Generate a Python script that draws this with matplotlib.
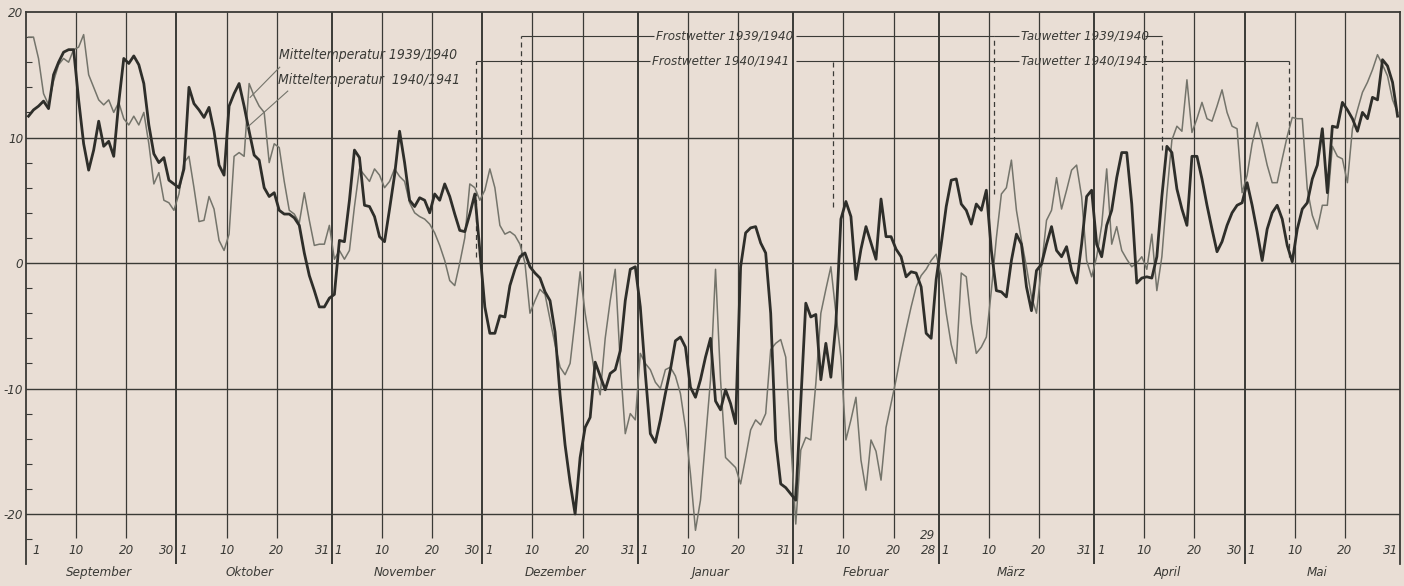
import numpy as np
import matplotlib
matplotlib.use("Agg")
import matplotlib.pyplot as plt

# daily mean temperature, 1 Sept - 31 May
# light thin line = 1939/1940, heavy line = 1940/1941
t40_sep = [18.0, 18.0, 16.3, 13.5, 12.6, 14.5, 15.8, 16.3, 16.0, 17.0, 17.2, 18.2, 15.0, 14.0, 13.0,
           12.6, 13.0, 12.0, 12.8, 11.5, 11.0, 11.7, 11.0, 12.0, 9.5, 6.3, 7.2, 5.0, 4.8, 4.2]
t40_oct = [5.5, 8.0, 8.5, 6.0, 3.3, 3.4, 5.3, 4.3, 1.8, 1.0, 2.3, 8.5, 8.8, 8.5, 14.3, 13.3,
           12.5, 12.0, 8.0, 9.5, 9.2, 6.5, 4.2, 3.9, 3.2, 5.6, 3.4, 1.4, 1.5, 1.5, 3.0]
t40_nov = [0.3, 1.0, 0.3, 1.0, 4.5, 7.5, 7.0, 6.5, 7.5, 7.0, 6.0, 6.5, 7.5, 6.9, 6.5, 4.8,
           4.0, 3.7, 3.5, 3.1, 2.4, 1.4, 0.2, -1.4, -1.8, 0.0, 2.0, 6.3, 6.0, 5.0]
t40_dec = [5.8, 7.5, 6.0, 3.0, 2.3, 2.5, 2.2, 1.5, 0.0, -4.0, -3.0, -2.1, -2.5, -4.5, -6.5, -8.3,
           -8.9, -8.0, -4.5, -0.7, -4.0, -6.5, -9.0, -10.5, -6.0, -3.0, -0.5, -8.0, -13.6, -12.0, -12.5]
t40_jan = [-7.2, -8.0, -8.5, -9.5, -10.0, -8.5, -8.3, -9.0, -10.4, -13.1, -16.8, -21.3, -18.9, -14.1,
           -9.3, -0.5, -9.3, -15.5, -15.9, -16.3, -17.6, -15.5, -13.3, -12.5, -12.9, -12.0, -6.9,
           -6.4, -6.1, -7.5, -14.1]
t40_feb = [-20.8, -14.9, -13.9, -14.1, -9.6, -4.0, -2.1, -0.3, -4.0, -7.5, -14.1, -12.5, -10.7,
           -15.7, -18.1, -14.1, -15.0, -17.3, -13.1, -11.2, -9.3, -7.2, -5.3, -3.5, -1.9, -1.0, -0.5,
           0.2, 0.7]
t40_mar = [-1.0, -4.0, -6.5, -8.0, -0.8, -1.1, -4.8, -7.2, -6.7, -5.9, -2.2, 2.0, 5.5, 6.0, 8.2,
           4.2, 1.8, -0.3, -2.7, -4.0, -0.3, 3.4, 4.2, 6.8, 4.3, 5.8, 7.4, 7.8, 5.3, 0.2, -1.1]
t40_apr = [0.5, 3.0, 7.5, 1.5, 2.9, 1.0, 0.3, -0.3, 0.0, 0.5, -0.5, 2.3, -2.2, 0.5, 5.5, 9.8,
           10.9, 10.5, 14.6, 10.4, 11.5, 12.8, 11.5, 11.3, 12.5, 13.8, 12.0, 10.9, 10.7, 5.6]
t40_may = [7.0, 9.5, 11.2, 9.6, 7.8, 6.4, 6.4, 8.3, 10.1, 11.6, 11.5, 11.5, 5.9, 3.8, 2.7, 4.6,
           4.6, 9.3, 8.5, 8.3, 6.4, 10.7, 12.2, 13.6, 14.4, 15.4, 16.6, 15.8, 14.9, 13.0, 12.0]

t41_sep = [11.7, 12.2, 12.5, 12.9, 12.3, 15.0, 16.0, 16.8, 17.0, 17.0, 13.0, 9.5, 7.4, 9.0, 11.3,
           9.3, 9.7, 8.5, 12.8, 16.3, 15.9, 16.5, 15.8, 14.3, 11.0, 8.7, 8.0, 8.4, 6.6, 6.3]
t41_oct = [6.0, 7.5, 14.0, 12.7, 12.2, 11.6, 12.4, 10.5, 7.8, 7.0, 12.5, 13.5, 14.3, 12.5, 10.5,
           8.6, 8.2, 6.0, 5.3, 5.6, 4.2, 3.9, 3.9, 3.6, 3.0, 0.8, -1.0, -2.2, -3.5, -3.5, -2.8]
t41_nov = [-2.5, 1.8, 1.7, 5.0, 9.0, 8.4, 4.6, 4.5, 3.7, 2.1, 1.7, 4.3, 7.0, 10.5, 8.0, 5.0,
           4.5, 5.2, 5.0, 4.0, 5.5, 5.0, 6.3, 5.3, 3.9, 2.6, 2.5, 3.9, 5.5, 1.0]
t41_dec = [-3.5, -5.6, -5.6, -4.2, -4.3, -1.8, -0.5, 0.5, 0.8, -0.3, -0.8, -1.2, -2.3, -3.0, -5.5,
           -10.5, -14.5, -17.5, -20.0, -15.5, -13.1, -12.3, -7.9, -9.0, -10.1, -8.8, -8.5, -7.0,
           -3.0, -0.5, -0.3]
t41_jan = [-3.5, -8.8, -13.6, -14.3, -12.5, -10.4, -8.5, -6.2, -5.9, -6.7, -9.9, -10.7, -9.3, -7.5,
           -6.0, -11.0, -11.7, -10.1, -11.2, -12.8, -0.3, 2.4, 2.8, 2.9, 1.6, 0.8, -4.0, -14.1,
           -17.6, -17.9, -18.4]
t41_feb = [-18.9, -11.0, -3.2, -4.3, -4.1, -9.3, -6.4, -9.1, -4.8, 3.5, 4.9, 3.7, -1.3, 1.1, 2.9,
           1.6, 0.3, 5.1, 2.1, 2.1, 1.1, 0.5, -1.1, -0.7, -0.8, -1.9, -5.6, -6.0, -1.3]
t41_mar = [1.5, 4.5, 6.6, 6.7, 4.7, 4.2, 3.1, 4.7, 4.2, 5.8, 1.0, -2.2, -2.3, -2.7, 0.2, 2.3,
           1.5, -1.9, -3.8, -0.6, -0.1, 1.5, 2.9, 1.0, 0.5, 1.3, -0.6, -1.6, 1.5, 5.3, 5.8]
t41_apr = [1.5, 0.5, 3.0, 4.2, 6.8, 8.8, 8.8, 4.7, -1.6, -1.2, -1.1, -1.2, 0.5, 5.3, 9.3, 8.8,
           5.9, 4.3, 3.0, 8.5, 8.5, 6.7, 4.6, 2.7, 0.9, 1.7, 3.0, 4.0, 4.6, 4.8]
t41_may = [6.4, 4.6, 2.5, 0.2, 2.7, 4.0, 4.6, 3.5, 1.4, 0.1, 2.7, 4.3, 4.8, 6.7, 7.8, 10.7,
           5.6, 10.9, 10.8, 12.8, 12.2, 11.5, 10.5, 12.0, 11.5, 13.2, 13.0, 16.2, 15.7, 14.4, 11.7]

months = ["September", "Oktober", "November", "Dezember", "Januar", "Februar", "März", "April", "Mai"]
month_len = [30, 31, 30, 31, 31, 29, 31, 30, 31]
last_day = ["30", "31", "30", "31", "31", "28", "31", "30", "31"]

# frost / thaw periods (day of season)
frost_4 = (89.7, 160.9)   # Frostwetter 1940/1941, Tauwetter 1940/1941 follows to 251.8
thaw_4_end = 251.8
frost_3 = (98.7, 193.0)   # Frostwetter 1939/1940, Tauwetter 1939/1940 follows to 226.5
thaw_3_end = 226.5

t40 = t40_sep + t40_oct + t40_nov + t40_dec + t40_jan + t40_feb + t40_mar + t40_apr + t40_may
t41 = t41_sep + t41_oct + t41_nov + t41_dec + t41_jan + t41_feb + t41_mar + t41_apr + t41_may
days = np.arange(len(t40)) + 0.5

bg = "#e9ded5"
ink = "#3a3a36"
fam = ["DejaVu Sans"]

fig = plt.figure(figsize=(14.04, 5.86), dpi=100, facecolor=bg)
ax = fig.add_axes([0.0185, 0.0372, 0.9787, 0.9423], facecolor=bg)
ax.set_xlim(0, 274)
ax.set_ylim(-24, 20)

# grid
starts = np.concatenate([[0], np.cumsum(month_len)])
for s in starts[1:-1]:
    ax.vlines(s, -24, 20, color=ink, lw=1.4, zorder=1)
for s in starts[:-1]:
    ax.vlines([s + 10, s + 20], -21.9, 20, color=ink, lw=0.9, zorder=1)
for yv in [10, 0, -10, -20]:
    ax.axhline(yv, color=ink, lw=1.0, zorder=1)

ax.spines["bottom"].set_visible(False)
for sp in ["left", "top", "right"]:
    ax.spines[sp].set_color(ink)
    ax.spines[sp].set_linewidth(1.3)

ax.set_xticks([])
ax.set_yticks([20, 10, 0, -10, -20])
ax.set_yticklabels(["20", "10", "0", "-10", "-20"], fontstyle="italic", family=fam,
                   fontstretch="condensed", fontsize=9.5, color=ink)
ax.set_yticks(np.arange(-22, 20, 2), minor=True)
ax.tick_params(axis="y", which="major", length=0, pad=2)
ax.tick_params(axis="y", which="minor", direction="in", length=4, color=ink, width=0.8)

# temperature curves
ax.plot(days, t40, color="#74746b", lw=1.1, zorder=3)
ax.plot(days, t41, color="#2e2e2a", lw=2.0, zorder=4)

# day and month labels
lab = dict(fontstyle="italic", family=fam, fontstretch="condensed", fontsize=9.5, color=ink, va="center")
for i, s in enumerate(starts[:-1]):
    if i == 0:
        ax.text(s + 1.2, -22.9, "1", ha="left", **lab)
    else:
        ax.text(s + 0.6, -22.9, "1", ha="left", **lab)
    ax.text(s + 10, -22.9, "10", ha="center", **lab)
    ax.text(s + 20, -22.9, "20", ha="center", **lab)
    ax.text(s + month_len[i] - 0.4, -22.9, last_day[i], ha="right", **lab)
    ax.text(s + 14.5, -24.7, months[i], ha="center", clip_on=False, **lab)
ax.text(starts[6] - 0.6, -21.7, "29", ha="right", **lab)

# legend leaders
txt = dict(fontstyle="italic", family=fam, fontstretch="condensed", fontsize=10, color=ink, va="center")
ax.text(50.5, 16.6, "Mitteltemperatur 1939/1940", ha="left", **txt)
ax.text(50.3, 14.6, "Mitteltemperatur  1940/1941", ha="left", **txt)
ax.plot([50.6, 44.7], [15.6, 13.2], color="#74746b", lw=0.8, zorder=5)
ax.plot([52.2, 44.1], [13.7, 10.8], color="#74746b", lw=0.8, zorder=5)

# frost and thaw periods
txt2 = dict(txt, fontsize=9.5)
y3, y4 = 18.1, 16.1
ax.hlines(y3, frost_3[0], 125.2, color=ink, lw=0.8)
ax.hlines(y3, 153.6, frost_3[1], color=ink, lw=0.8)
ax.text(125.6, y3, "Frostwetter 1939/1940", ha="left", **txt2)
ax.hlines(y3, frost_3[1], 198.0, color=ink, lw=0.8)
ax.hlines(y3, 223.2, thaw_3_end, color=ink, lw=0.8)
ax.text(198.4, y3, "Tauwetter 1939/1940", ha="left", **txt2)

ax.hlines(y4, frost_4[0], 124.5, color=ink, lw=0.8)
ax.hlines(y4, 153.6, 198.0, color=ink, lw=0.8)
ax.text(124.8, y4, "Frostwetter 1940/1941", ha="left", **txt2)
ax.text(198.4, y4, "Tauwetter 1940/1941", ha="left", **txt2)
ax.hlines(y4, 223.2, thaw_4_end, color=ink, lw=0.8)

dash = dict(color=ink, lw=0.9, linestyles=(0, (4, 3)), zorder=2)
ax.vlines(frost_4[0], 0.5, y4, **dash)
ax.vlines(frost_3[0], 0.5, y3, **dash)
ax.vlines(frost_4[1], 4.5, y4, **dash)
ax.vlines(frost_3[1], 5.5, y3, **dash)
ax.vlines(thaw_3_end, 9.0, y3, **dash)
ax.vlines(thaw_4_end, 0.5, y4, **dash)

fig.savefig("out.png", dpi=100, facecolor=bg)
